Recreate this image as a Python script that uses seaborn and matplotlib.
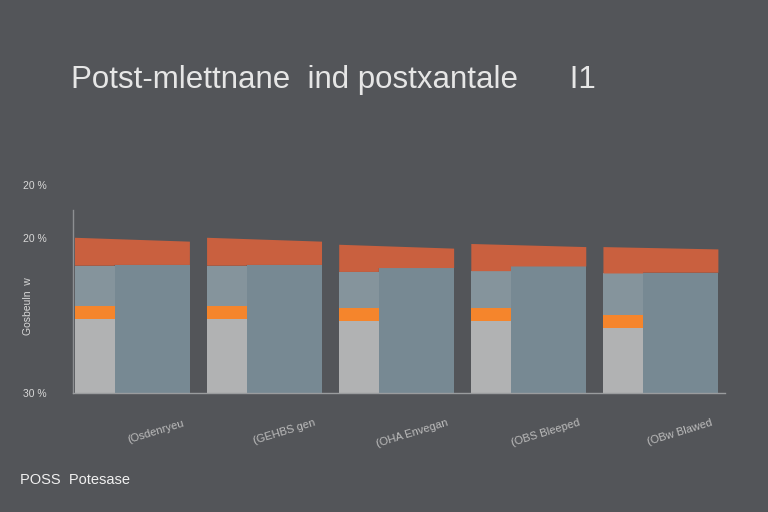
import matplotlib
matplotlib.use("Agg")
import matplotlib.pyplot as plt
import seaborn as sns
import numpy as np

# --- data ---
groups = ["(Osdenryeu", "(GEHBS gen", "(OHA Envegan", "(OBS Bleeped", "(OBw Blawed"]
base_gray = [9.5, 9.5, 9.3, 9.3, 8.4]        # light gray, narrow bar
orange_top = [11.2, 11.2, 11.0, 11.0, 10.1]  # top of orange band
narrow_top = [16.4, 16.4, 15.6, 15.7, 15.4]  # top of gray-blue, narrow bar
wide_top = [16.5, 16.5, 16.1, 16.3, 15.5]    # top of wide blue-gray bar
cap_left = [20.0, 20.0, 19.1, 19.2, 18.8]    # red cap, left edge
cap_right = [19.5, 19.5, 18.6, 18.8, 18.5]   # red cap, right edge
ytick_vals = [0, 20, 26.8]
ytick_labels = ["30 %", "20 %", "20 %"]

# --- style ---
bg = "#535559"
c_light = "#b1b2b3"
c_orange = "#f5852c"
c_narrow = "#85949c"
c_wide = "#778993"
c_red = "#c9603f"
txt = "#d8d8d8"

sns.set_theme(style="white")
plt.rcParams["font.family"] = ["Liberation Sans", "DejaVu Sans"]

fig = plt.figure(figsize=(7.68, 5.12), dpi=100, facecolor=bg)
ax = fig.add_axes([0.095, 0.2324, 0.849, 0.4063], facecolor=bg)

nw, ww = 0.30, 0.57
x0 = np.arange(len(groups), dtype=float)
xs = x0 + nw
x1 = xs + ww

lg = np.array(base_gray)
ot = np.array(orange_top)
nt = np.array(narrow_top)
wt = np.array(wide_top)

ax.bar(x0, lg, width=nw, align="edge", color=c_light, linewidth=0)
ax.bar(x0, ot - lg, bottom=lg, width=nw, align="edge", color=c_orange, linewidth=0)
ax.bar(x0, nt - ot, bottom=ot, width=nw, align="edge", color=c_narrow, linewidth=0)
ax.bar(xs, wt, width=ww, align="edge", color=c_wide, linewidth=0)

# red caps, one polygon per group with a slight slope
for i in range(len(groups)):
    ax.fill([x0[i], xs[i], xs[i], x1[i], x1[i], x0[i]],
            [nt[i], nt[i], wt[i], wt[i], cap_right[i], cap_left[i]],
            color=c_red, linewidth=0)

ax.set_xlim(-0.015, 4.92)
ax.set_ylim(0, 26.8)

for s in ["top", "right"]:
    ax.spines[s].set_visible(False)
ax.spines["left"].set_color("#8d8f92")
ax.spines["left"].set_linewidth(1)
ax.spines["left"].set_bounds(0, 23.6)
ax.spines["bottom"].set_color("#9a9c9e")
ax.spines["bottom"].set_linewidth(1)

ax.set_yticks(ytick_vals)
ax.set_yticklabels(ytick_labels, fontsize=7.5, color=txt)
ax.tick_params(axis="y", length=0, pad=19)

ax.set_xticks(x1 - 0.06)
ax.set_xticklabels(groups, rotation=17, ha="right", rotation_mode="anchor",
                   fontsize=8, color="#bdbdbd")
ax.tick_params(axis="x", length=0, pad=18)

ax.set_ylabel("Gosbeuln  w", fontsize=7.5, color=txt)
ax.yaxis.set_label_coords(-0.062, 0.42)

fig.text(0.092, 0.843, "Potst-mlettnane  ind postxantale      I1",
         fontsize=22.5, color="#e6e6e6", ha="left", va="center")
fig.text(0.026, 0.063, "POSS  Potesase", fontsize=10.5, color="#f0f0f0",
         ha="left", va="center")

fig.savefig("out.png", dpi=100, facecolor=bg)
